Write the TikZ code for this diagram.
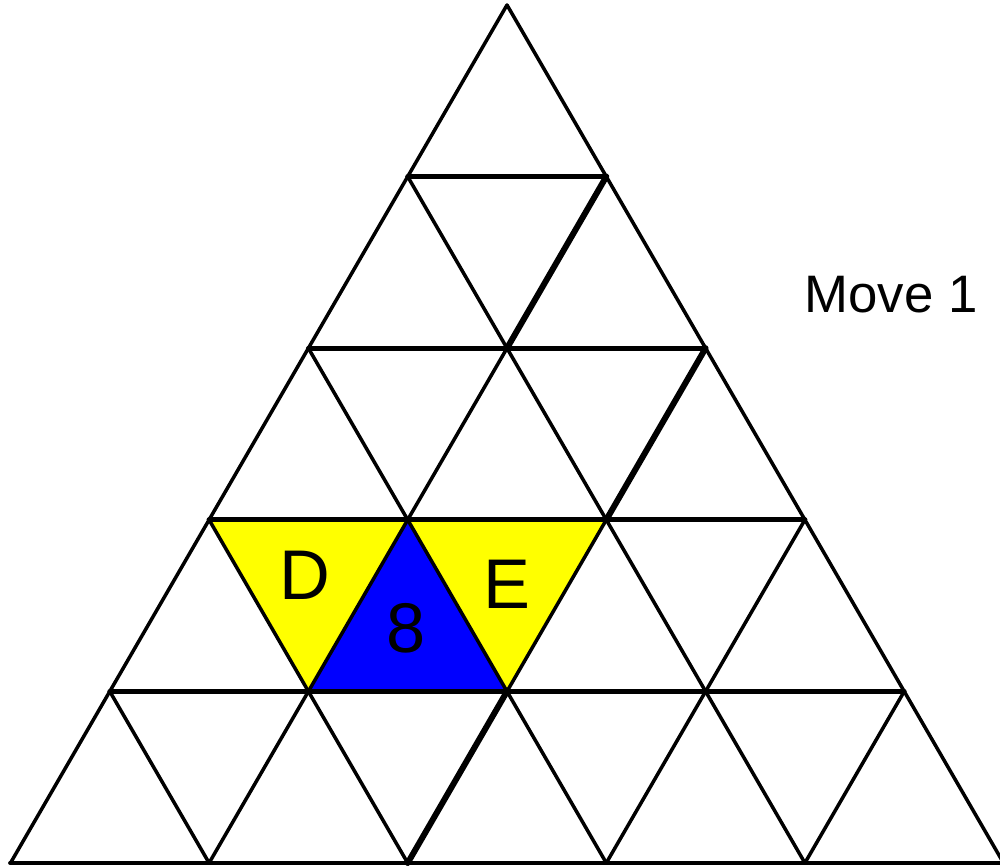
\documentclass[tikz,border=0pt]{standalone}
\usepackage{fontspec}
\setmainfont{Liberation Sans}
\definecolor{tyellow}{RGB}{255,255,0}
\definecolor{tblue}{RGB}{0,0,255}
\begin{document}
\begin{tikzpicture}[x=0.01cm,y=-0.01cm,
  thinedge/.style={line width=1pt,line cap=round,line join=round},
  thickedge/.style={line width=1.4pt,line cap=round},
  heavyedge/.style={line width=1.7pt,line cap=round},
  lbl/.style={inner sep=0pt,anchor=base,font=\fontsize{20}{24}\selectfont},
  movelbl/.style={inner sep=0pt,anchor=base,font=\fontsize{15}{18}\selectfont}]
\useasboundingbox (0,0) rectangle (1000,868);
\foreach \i in {0,...,5}{
  \foreach \j in {0,...,\i}{
    \coordinate (p-\i-\j) at ({507+(\j-\i/2)*198.6},{5+171.6*\i});
  }
}
% fills
\fill[tyellow] (p-3-0) -- (p-3-1) -- (p-4-1) -- cycle;
\fill[tyellow] (p-3-1) -- (p-3-2) -- (p-4-2) -- cycle;
\fill[tblue] (p-3-1) -- (p-4-1) -- (p-4-2) -- cycle;
% diagonals parallel to left edge
\foreach \k in {0,...,4}{
  \draw[thinedge] (p-\k-\k) -- (p-5-\k);
}
% diagonals parallel to right edge
\foreach \k in {0,...,4}{
  \pgfmathtruncatemacro{\e}{5-\k}
  \draw[thinedge] (p-\k-0) -- (p-5-\e);
}
% heavier segments
\draw[heavyedge] (p-1-1) -- (p-2-1);
\draw[heavyedge] (p-2-2) -- (p-3-2);
\draw[heavyedge] (p-4-2) -- (p-5-2);
% horizontals
\foreach \i in {1,...,5}{
  \draw[thickedge] (p-\i-0) -- (p-\i-\i);
}
\node[lbl] (d) at (305,600) {D};
\node[lbl] (e) at (507,609) {E};
\node[lbl] (eight) at (406,653) {8};
\node[movelbl] (move) at (891,313) {Move 1};
\end{tikzpicture}
\end{document}
